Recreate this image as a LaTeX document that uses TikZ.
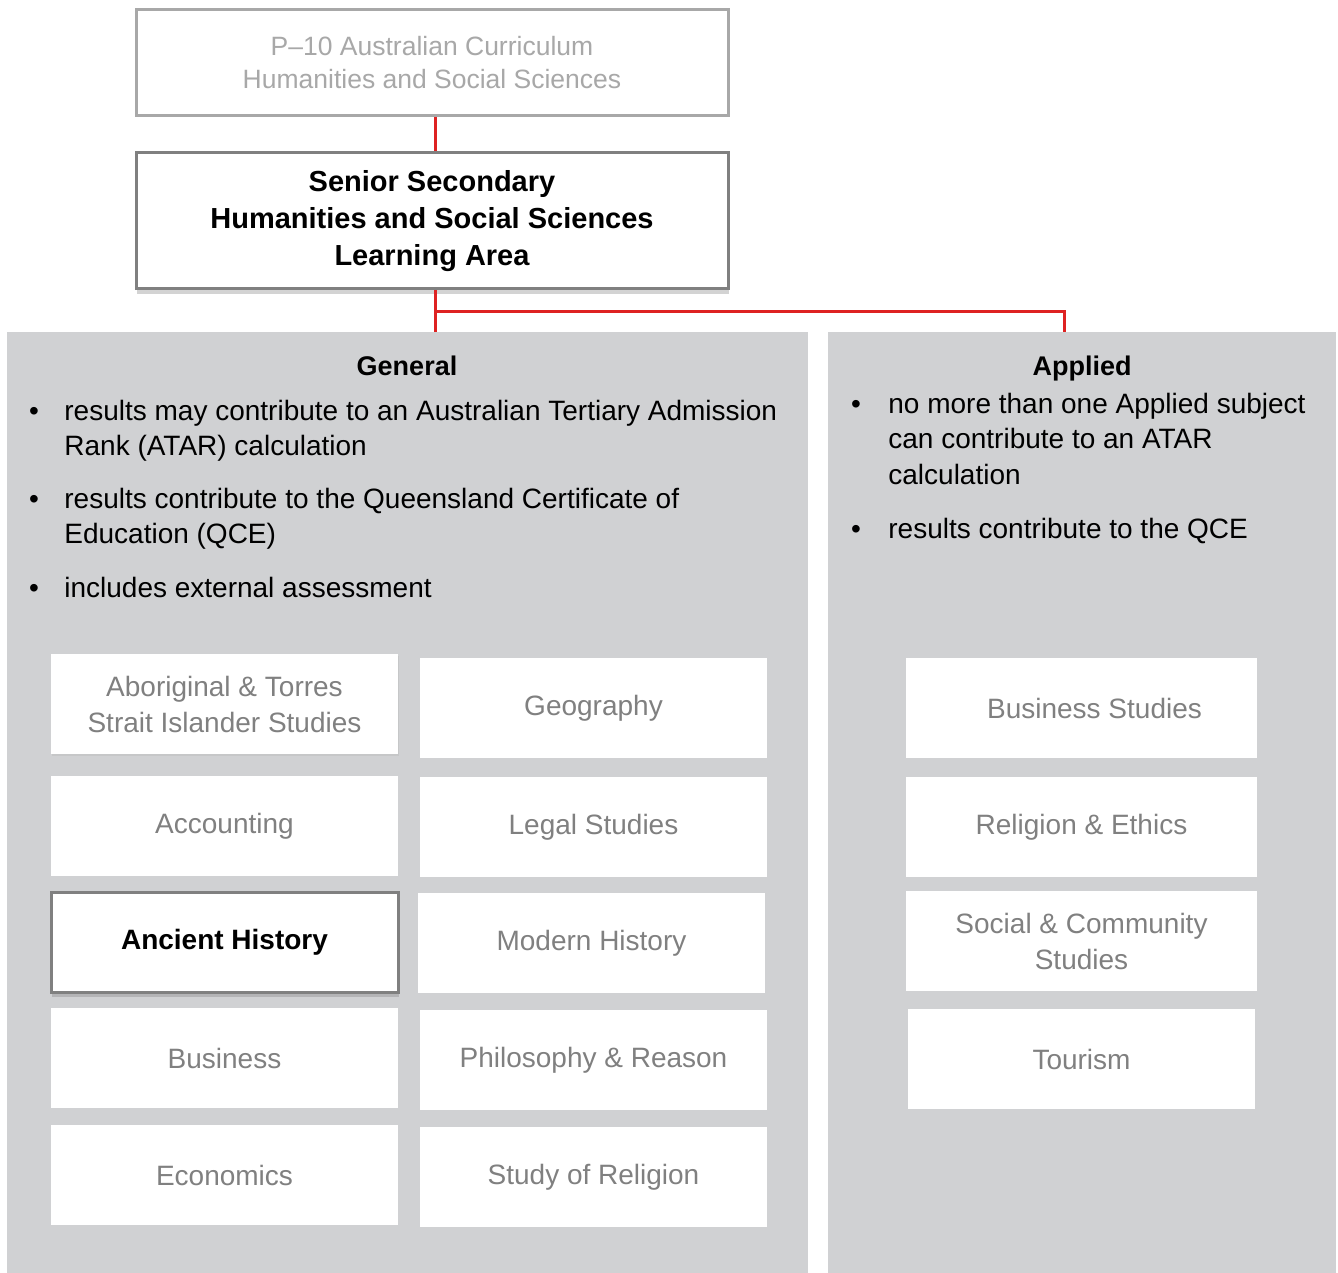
\documentclass[tikz,border=0pt]{standalone}
\usepackage{fontspec}
\setmainfont{Liberation Sans}
\usetikzlibrary{shadows}
\definecolor{panelgray}{RGB}{208,209,211}
\definecolor{subjgray}{RGB}{128,128,128}
\definecolor{palegray}{RGB}{168,168,168}
\definecolor{linkred}{RGB}{222,34,34}

\begin{document}
\begin{tikzpicture}[
  x=0.5pt, y=-0.5pt,
  panel/.style={fill=panelgray,anchor=north west,inner sep=0pt,minimum height=470.5pt},
  topbox/.style={draw=palegray,line width=1.5pt,fill=white,text=palegray,align=center,
    minimum width=296pt,minimum height=53pt,font=\fontsize{13.25}{16.5}\selectfont},
  areabox/.style={draw=subjgray,line width=1.5pt,fill=white,align=center,
    minimum width=296pt,minimum height=68pt,font=\bfseries\fontsize{14.5}{18.5}\selectfont,
    drop shadow={shadow xshift=0.5pt,shadow yshift=-2.5pt,opacity=0.35}},
  subj/.style={fill=white,text=subjgray,align=center,minimum width=173.5pt,minimum height=50pt,
    inner sep=0pt,font=\fontsize{14}{18}\selectfont},
  subjkey/.style={subj,draw=subjgray,line width=1.5pt,text=black,font=\bfseries\fontsize{14}{18}\selectfont,
    drop shadow={shadow xshift=0.5pt,shadow yshift=-2.5pt,opacity=0.35}},
  heading/.style={anchor=base,font=\bfseries\fontsize{13.5}{16}\selectfont},
  % multi-line items are placed by the baseline of their last line
  item/.style={anchor=base west,align=left,inner sep=0pt,font=\fontsize{14}{17.5}\selectfont},
  dot/.style={anchor=base,inner sep=0pt,font=\fontsize{14}{17.5}\selectfont},
  link/.style={draw=linkred,line width=1.5pt}
]
\useasboundingbox (0,0) rectangle (1338,1273);

% the two pathways
\node[panel,minimum width=400.5pt] (general) at (7,332) {};
\node[panel,minimum width=254pt] (applied) at (828,332) {};

% learning area boxes
\node[topbox] (p10) at (432,63) {P--10 Australian Curriculum\\Humanities and Social Sciences};
\node[areabox] (area) at (432,221) {Senior Secondary\\Humanities and Social Sciences\\Learning Area};

\coordinate (fork) at (435,311);
\coordinate (appin) at (1064,332);
\draw[link] (p10.south -| fork) -- (area.north -| fork);
\draw[link] (area.south -| fork) -- (general.north -| fork);
\draw[link] (fork) -| (appin);

% General
\node[heading] (genhead) at (407,375) {General};
\node[dot] (gdot1) at (34,420) {•};
\node[item] (gen1) at (64,455) {results may contribute to an Australian Tertiary Admission\\Rank (ATAR) calculation};
\node[dot] (gdot2) at (34,508) {•};
\node[item] (gen2) at (64,543) {results contribute to the Queensland Certificate of\\Education (QCE)};
\node[dot] (gdot3) at (34,597) {•};
\node[item] (gen3) at (64,597) {includes external assessment};

\node[subj,drop shadow={shadow xshift=0.5pt,shadow yshift=-1pt,opacity=0.12}] (atsi) at (224.5,704) {Aboriginal \& Torres\\Strait Islander Studies};
\node[subj] (geog) at (593.5,708) {Geography};
\node[subj] (acct) at (224.5,826) {Accounting};
\node[subj] (legal) at (593.5,827) {Legal Studies};
\node[subjkey] (ancient) at (224.5,942) {Ancient History};
\node[subj] (modern) at (591.5,943) {Modern History};
\node[subj] (bus) at (224.5,1058) {Business};
\node[subj] (phil) at (593.5,1060) {Philosophy \& Reason};
\node[subj] (econ) at (224.5,1175) {Economics};
\node[subj] (religion) at (593.5,1177) {Study of Religion};

% Applied
\node[heading] (apphead) at (1082,375) {Applied};
\node[dot] (adot1) at (856,413) {•};
\node[item,font=\fontsize{14}{17.75}\selectfont] (app1) at (888,484) {no more than one Applied subject\\can contribute to an ATAR\\calculation};
\node[dot] (adot2) at (856,538) {•};
\node[item] (app2) at (888,538) {results contribute to the QCE};

\node[subj,minimum width=175.5pt] (busst) at (1081.5,708) {\hspace*{13pt}Business Studies};
\node[subj,minimum width=175.5pt] (relig) at (1081.5,827) {Religion \& Ethics};
\node[subj,minimum width=175.5pt] (social) at (1081.5,941) {Social \& Community\\Studies};
\node[subj,minimum width=173.5pt] (tour) at (1081.5,1059) {Tourism};
\end{tikzpicture}
\end{document}
